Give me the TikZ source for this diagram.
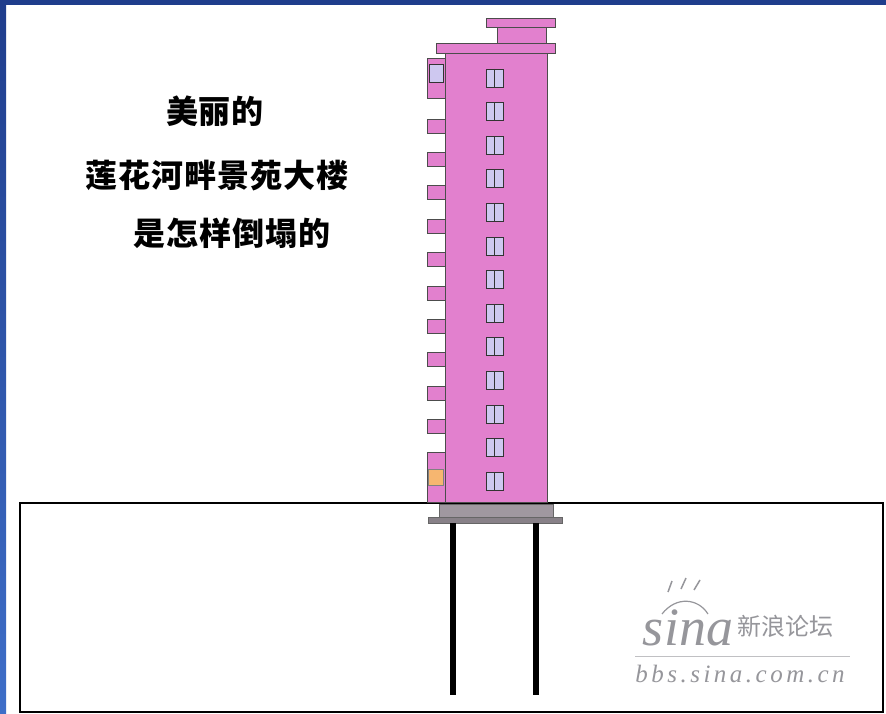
\documentclass[tikz,border=0pt]{standalone}
\usepackage{fontspec}
\usepackage{tikz}
\usetikzlibrary{positioning,calc}
\newfontfamily\cjk{Noto Sans CJK SC}[LetterSpace=3]
\newfontfamily\logofont{Liberation Serif}
\newfontfamily\logourl{Liberation Serif}[LetterSpace=14]
\newfontfamily\logocjk{Noto Sans CJK SC}

\definecolor{frameblue}{RGB}{31,61,140}
\definecolor{frameblue2}{RGB}{62,110,200}
\definecolor{wallpink}{RGB}{226,128,206}
\definecolor{glass}{RGB}{206,200,240}
\definecolor{lamp}{RGB}{246,182,112}
\definecolor{slab}{RGB}{160,152,160}
\definecolor{logogray}{RGB}{150,150,155}

\begin{document}
\begin{tikzpicture}[x=1pt, y=-1pt]
    \tikzset{wall/.style={fill=wallpink, draw=black!70, line width=0.8pt}}
    \tikzset{pane/.style={fill=glass, draw=black!80, line width=0.9pt}}
    \tikzset{title/.style={font=\cjk\bfseries\fontsize{32}{38}\selectfont, inner sep=0pt}}
    \tikzset{pile/.style={line width=6pt, black}}

    \useasboundingbox (0,0) rectangle (886,714);
    \fill[white] (0,0) rectangle (886,714);

    % Frame
    \fill[frameblue] (0,0) rectangle (886,5);
    \shade[top color=frameblue, bottom color=frameblue2] (0,0) rectangle (6,714);

    % Title
    \node[title] (line1) at (215,111) {美丽的};
    \node[title] (line2) at (217,176) {莲花河畔景苑大楼};
    \node[title] (line3) at (232,233) {是怎样倒塌的};

    % Ground
    \draw[line width=2.5pt] (20,503) rectangle (883,712);

    % Tower
    \draw[wall] (486,18) rectangle (555,27);
    \draw[wall] (497,27) rectangle (546,43);
    \draw[wall] (436,43) rectangle (555,53);
    \draw[wall] (445,53) rectangle (547,502);

    % Windows
    \foreach \i in {0,...,12} {
        \draw[pane] (486,69+33.6*\i) rectangle (503,87+33.6*\i);
        \draw[black!80, line width=0.9pt] (494.5,69+33.6*\i) -- (494.5,87+33.6*\i);
    }

    % Balconies
    \draw[wall] (427,58) rectangle (445,98);
    \draw[pane] (429,64) rectangle (443,82);
    \foreach \i in {0,...,9}
        \draw[wall] (427,119+33.4*\i) rectangle (445,133+33.4*\i);
    \draw[wall] (427,452) rectangle (445,502);
    \draw[fill=lamp, draw=black!50] (428,469) rectangle (443,485);

    % Foundation
    \draw[fill=slab, draw=black!60] (439,504) rectangle (553,517);
    \draw[fill=slab!85!black, draw=black!60] (428,517) rectangle (562,523);
    \draw[pile] (453,523) -- (453,695);
    \draw[pile] (536,523) -- (536,695);

    % Watermark
    \node[font=\logofont\itshape\fontsize{54}{54}\selectfont, text=logogray, inner sep=0pt] (sina) at (688,628) {sina};
    \draw[logogray, line width=1.5pt] (668,592) -- (672,581) (681,589) -- (686,578) (694,590) -- (700,580);
    \draw[logogray, line width=1.2pt] (662,614) .. controls (676,596) and (698,598) .. (708,614);
    \node[font=\logocjk\fontsize{24}{24}\selectfont, text=logogray, inner sep=0pt, right=4pt of sina.east, yshift=2pt] (forum) {新浪论坛};
    \draw[logogray!60, line width=0.6pt] (635,656) -- (850,656);
    \node[font=\logourl\itshape\fontsize{25}{25}\selectfont, text=logogray, inner sep=0pt] (url) at (740,674) {bbs.sina.com.cn};
\end{tikzpicture}
\end{document}
